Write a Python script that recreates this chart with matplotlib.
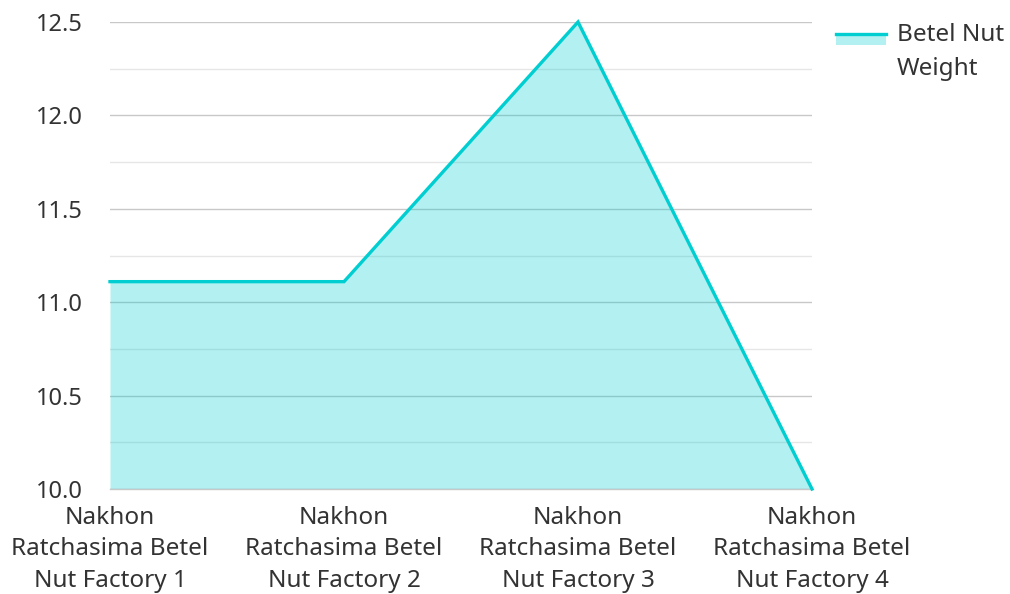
import matplotlib
matplotlib.use("Agg")
import matplotlib.pyplot as plt
from matplotlib.lines import Line2D
from matplotlib.patches import Rectangle
from matplotlib.ticker import MultipleLocator

plt.rcParams['font.family'] = ['Noto Sans', 'DejaVu Sans']

factories = [
    "Nakhon\nRatchasima Betel\nNut Factory 1",
    "Nakhon\nRatchasima Betel\nNut Factory 2",
    "Nakhon\nRatchasima Betel\nNut Factory 3",
    "Nakhon\nRatchasima Betel\nNut Factory 4",
]
weights = [11.11, 11.11, 12.5, 10.0]
series_name = "Betel Nut\nWeight"

LINE_COLOR = "#00CED1"
TEXT_COLOR = "#333333"
W, H = 1010, 594

fig = plt.figure(figsize=(W / 100, H / 100), dpi=100)
ax = fig.add_axes([110 / W, 105 / H, 702 / W, 467 / H])

x = list(range(len(factories)))
ax.set_xlim(x[0], x[-1])
ax.set_ylim(10.0, 12.5)

ax.yaxis.set_major_locator(MultipleLocator(0.5))
ax.yaxis.set_minor_locator(MultipleLocator(0.25))
ax.grid(axis='y', which='major', color='#c8c8c8', linewidth=1.0, zorder=0)
ax.grid(axis='y', which='minor', color='#e6e6e6', linewidth=1.0, zorder=0)
ax.set_axisbelow(True)

ax.fill_between(x, weights, 10.0, color=LINE_COLOR, alpha=0.3, linewidth=0, zorder=2)
ax.plot(x, weights, color=LINE_COLOR, linewidth=2.4, zorder=3, solid_joinstyle='miter',
        clip_on=False)

ax.set_xticks(x)
ax.set_xticklabels(factories, fontsize=17.5, color=TEXT_COLOR, linespacing=1.42)
ax.yaxis.set_major_formatter(plt.FuncFormatter(lambda v, p: f"{v:.1f}"))
ax.tick_params(axis='y', which='both', length=0, labelsize=17, labelcolor=TEXT_COLOR, pad=19.5)
ax.tick_params(axis='x', length=0, pad=12)
for side in ['top', 'right', 'left']:
    ax.spines[side].set_visible(False)
ax.spines['bottom'].set_color('#c8c8c8')
ax.spines['bottom'].set_linewidth(1.0)

# Legend: swatch with the series line on top of its area fill, then the label
swatch_fill = Rectangle((836 / W, 1 - 45 / H), 50 / W, 12 / H, transform=fig.transFigure,
                        facecolor=LINE_COLOR, alpha=0.3, linewidth=0)
swatch_line = Line2D([836 / W, 886 / W], [1 - 34 / H, 1 - 34 / H], transform=fig.transFigure,
                     color=LINE_COLOR, linewidth=2.4)
fig.add_artist(swatch_fill)
fig.add_artist(swatch_line)
fig.text(897 / W, 1 - 52 / H, series_name, fontsize=17.5, color=TEXT_COLOR,
         ha='left', va='center', linespacing=1.55)

fig.savefig("out.png", dpi=100)
